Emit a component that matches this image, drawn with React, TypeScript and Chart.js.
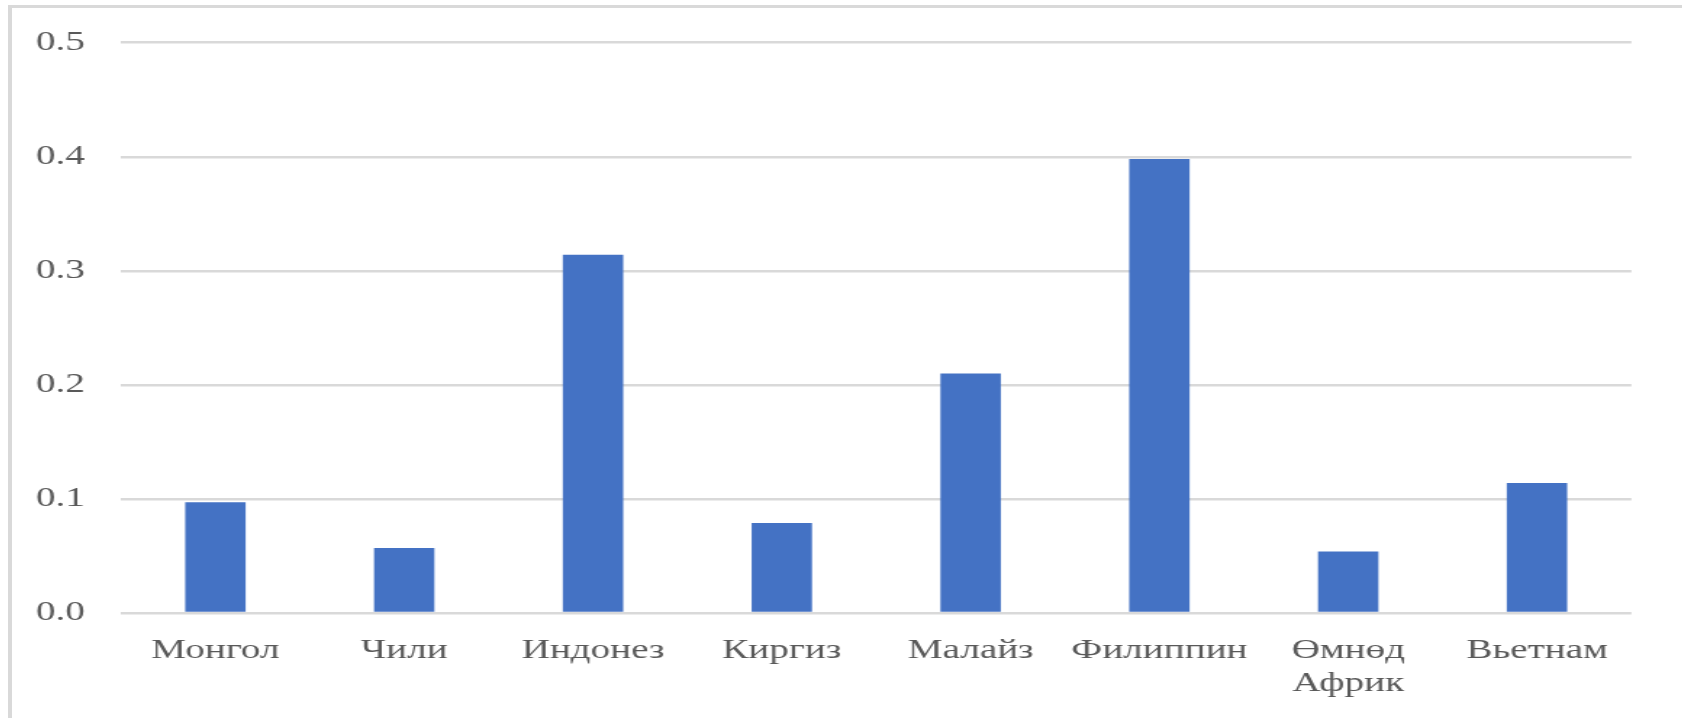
import React, { useEffect, useRef } from "react";
import { Chart, registerables } from "chart.js";

Chart.register(...registerables);

const categories: (string | string[])[] = [
  "Монгол",
  "Чили",
  "Индонез",
  "Киргиз",
  "Малайз",
  "Филиппин",
  ["Өмнөд", "Африк"],
  "Вьетнам",
];
const values: number[] = [0.097, 0.057, 0.314, 0.079, 0.21, 0.398, 0.054, 0.114];
const yMin = 0;
const yMax = 0.5;
const yStep = 0.1;

const SX = 1.45; // horizontal stretch of the reference picture
const W = 1670;
const H = 710;

export default function App() {
  const ref = useRef<HTMLCanvasElement | null>(null);

  useEffect(() => {
    if (!ref.current) return;
    const font = { family: "'Liberation Serif', 'Times New Roman', serif", size: 27 };
    const chart = new Chart(ref.current, {
      type: "bar",
      data: {
        labels: categories,
        datasets: [
          {
            data: values,
            backgroundColor: "#4472C4",
            borderWidth: 0,
            categoryPercentage: 1,
            barPercentage: 0.32,
          },
        ],
      },
      options: {
        animation: false,
        responsive: false,
        maintainAspectRatio: false,
        devicePixelRatio: 1,
        layout: { padding: { top: 34.7, right: (1682 - 1631) / SX, bottom: 0, left: 0 } },
        plugins: { legend: { display: false }, tooltip: { enabled: false } },
        scales: {
          x: {
            grid: { display: false, drawTicks: false },
            border: { display: false },
            ticks: { font, color: "#595959", padding: 22, maxRotation: 0, autoSkip: false },
            afterFit: (s: any) => {
              s.height = 105;
            },
          },
          y: {
            min: yMin,
            max: yMax,
            grid: { color: "#d9d9d9", lineWidth: 2.5, drawTicks: false },
            border: { display: false },
            ticks: {
              stepSize: yStep,
              font,
              color: "#595959",
              padding: 36 / SX,
              callback: (v: any) => Number(v).toFixed(1),
            },
            afterFit: (s: any) => {
              s.width = (121 - 12) / SX;
              s.paddingTop = 0;
              s.paddingBottom = 0;
            },
          },
        },
      },
    });
    return () => chart.destroy();
  }, []);

  return (
    <div
      style={{
        position: "absolute",
        left: 8,
        top: 5,
        borderTop: "3px solid #d9d9d9",
        borderLeft: "4px solid #d9d9d9",
        width: W,
        height: H,
        background: "#fff",
        overflow: "hidden",
      }}
    >
      <div
        style={{
          position: "absolute",
          left: 0,
          top: 0,
          width: W / SX,
          height: H,
          transform: `scaleX(${SX})`,
          transformOrigin: "left top",
        }}
      >
        <canvas
          ref={ref}
          width={Math.round(W / SX)}
          height={H}
          style={{ display: "block", width: Math.round(W / SX), height: H }}
        />
      </div>
    </div>
  );
}
